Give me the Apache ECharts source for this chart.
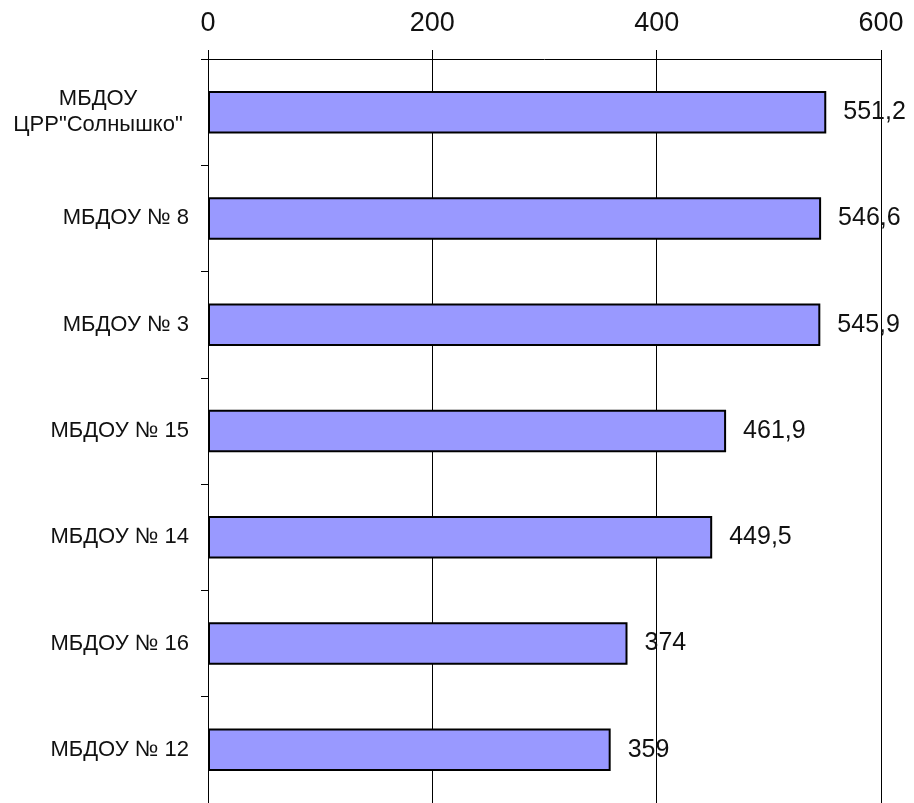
<!DOCTYPE html>
<html>
<head>
<meta charset="utf-8">
<script src="https://cdn.jsdelivr.net/npm/echarts@6/dist/echarts.min.js"></script>
<style>
html,body{margin:0;padding:0;background:#fff;}
#chart{width:914px;height:803px;}
</style>
</head>
<body>
<div id="chart"></div>
<script>
var categories = ['МБДОУ\nЦРР"Солнышко"', 'МБДОУ № 8', 'МБДОУ № 3', 'МБДОУ № 15', 'МБДОУ № 14', 'МБДОУ № 16', 'МБДОУ № 12'];
var values = [551.2, 546.6, 545.9, 461.9, 449.5, 374, 359];
var xTicks = [0, 200, 400, 600];

var chart = echarts.init(document.getElementById('chart'), null, {renderer: 'canvas'});
var font = 'Liberation Sans, Arial, sans-serif';
chart.setOption({
  animation: false,
  backgroundColor: '#fff',
  grid: {left: 208, right: 33, top: 59, bottom: -1, containLabel: false},
  xAxis: {
    type: 'value',
    position: 'top',
    min: xTicks[0],
    max: xTicks[xTicks.length - 1],
    interval: 200,
    axisLine: {show: true, lineStyle: {color: '#000', width: 1}},
    axisTick: {show: true, length: 9, lineStyle: {color: '#000'}},
    axisLabel: {color: '#111', fontSize: 27, fontFamily: font, margin: 22},
    splitLine: {show: true, lineStyle: {color: '#000', width: 1}}
  },
  yAxis: {
    type: 'category',
    inverse: true,
    data: categories,
    axisLine: {show: true, lineStyle: {color: '#000', width: 1}},
    axisTick: {show: true, length: 7, lineStyle: {color: '#000'}},
    axisLabel: {
      color: '#111', fontSize: 22, fontFamily: font, margin: 19,
      formatter: function (v) {
        if (v.indexOf('\n') >= 0) {
          var parts = v.split('\n');
          return parts.map(function (p) { return '{c|' + p + '}'; }).join('\n');
        }
        return v;
      },
      rich: {c: {width: 182, align: 'center', fontSize: 22, fontFamily: font, color: '#111', lineHeight: 26}}
    }
  },
  series: [{
    type: 'bar',
    data: values,
    barCategoryGap: '60%',
    itemStyle: {color: '#9999FF', borderColor: '#000', borderWidth: 2},
    label: {
      show: true, position: 'right', distance: 17,
      color: '#111', fontSize: 25, fontFamily: font,
      formatter: function (p) { return String(p.value).replace('.', ','); }
    }
  }]
});
</script>
</body>
</html>
